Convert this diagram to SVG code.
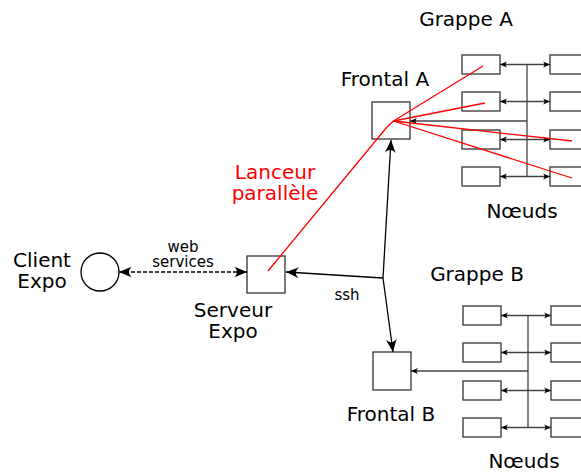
<svg xmlns="http://www.w3.org/2000/svg" width="581" height="473" viewBox="0 0 581 473">
<style>
text{font-family:"DejaVu Sans",sans-serif;fill:#000}
.l{font-size:20px;text-anchor:middle}
.s{font-size:15px;text-anchor:middle}
.red{fill:#ff0000}
.box{fill:#fff;stroke:#333;stroke-width:1.3}
.c{fill:none;stroke:#000;stroke-width:1.3}
.b{fill:none;stroke:#444;stroke-width:1.3}
.r{fill:none;stroke:#ff0000;stroke-width:1.3}
</style>
<defs>
<marker id="ah" viewBox="-14 -7 16 14" markerWidth="16" markerHeight="14" refX="0" refY="0" orient="auto-start-reverse" markerUnits="userSpaceOnUse">
<path d="M0,0 L-13,-5.5 C-9,-2 -9,2 -13,5.5 Z" fill="#000"/>
</marker>
<marker id="sm" viewBox="-9 -4 10 8" markerWidth="10" markerHeight="8" refX="0" refY="0" orient="auto-start-reverse" markerUnits="userSpaceOnUse">
<path d="M0,0 L-7,-3 C-5,-1 -5,1 -7,3 Z" fill="#000"/>
</marker>
</defs>
<rect width="581" height="473" fill="#fff"/>

<g id="client-expo">
<circle cx="100" cy="272" r="19" fill="#fff" stroke="#000" stroke-width="1.3"/>
<text class="l" x="42" y="267">Client<tspan x="42" dy="21">Expo</tspan></text>
</g>
<g id="serveur-expo">
<rect class="box" x="247" y="256" width="38" height="37"/>
<text class="l" x="233" y="317">Serveur<tspan x="233" dy="21">Expo</tspan></text>
</g>
<g id="frontal-a">
<rect class="box" x="372" y="102" width="38" height="37"/>
<text class="l" x="385" y="86">Frontal A</text>
</g>
<g id="frontal-b">
<rect class="box" x="373" y="352" width="38" height="38"/>
<text class="l" x="391" y="421">Frontal B</text>
</g>
<g id="grappe-a">
<text class="l" x="466" y="26">Grappe A</text>
<rect class="box" x="462" y="55" width="38" height="19"/>
<rect class="box" x="462" y="92" width="38" height="19"/>
<rect class="box" x="462" y="130" width="38" height="19"/>
<rect class="box" x="462" y="167" width="38" height="19"/>
<rect class="box" x="550" y="55" width="40" height="19"/>
<rect class="box" x="550" y="92" width="40" height="19"/>
<rect class="box" x="550" y="130" width="40" height="19"/>
<rect class="box" x="550" y="167" width="40" height="19"/>
<text class="l" x="522" y="218">Nœuds</text>
</g>
<g id="grappe-b">
<text class="l" x="477" y="281">Grappe B</text>
<rect class="box" x="463" y="306" width="38" height="19"/>
<rect class="box" x="463" y="343" width="38" height="19"/>
<rect class="box" x="463" y="381" width="38" height="19"/>
<rect class="box" x="463" y="418" width="38" height="19"/>
<rect class="box" x="551" y="306" width="40" height="19"/>
<rect class="box" x="551" y="343" width="40" height="19"/>
<rect class="box" x="551" y="381" width="40" height="19"/>
<rect class="box" x="551" y="418" width="40" height="19"/>
<text class="l" x="524" y="468">Nœuds</text>
</g>

<g id="connectors">
<path class="c" d="M119,272 H247" stroke-dasharray="4,2" marker-start="url(#ah)" marker-end="url(#ah)"/>
<text class="s" x="183" y="252">web<tspan x="183" dy="15">services</tspan></text>
<path class="c" d="M383,278 L286,272" marker-end="url(#ah)"/>
<path class="c" d="M383,278 L391,140" marker-end="url(#ah)"/>
<path class="c" d="M383,278 L393,352" marker-end="url(#ah)"/>
<text class="s" x="347" y="300">ssh</text>
<!-- bus A -->
<path class="b" d="M527,64.5 V176.5"/>
<path class="b" d="M527,121 H410" marker-end="url(#sm)"/>
<path class="b" d="M500,64.5 H550" marker-start="url(#sm)" marker-end="url(#sm)"/>
<path class="b" d="M500,101.5 H550" marker-start="url(#sm)" marker-end="url(#sm)"/>
<path class="b" d="M500,139.5 H550" marker-start="url(#sm)" marker-end="url(#sm)"/>
<path class="b" d="M500,176.5 H550" marker-start="url(#sm)" marker-end="url(#sm)"/>
<!-- bus B -->
<path class="b" d="M528,315.5 V427.5"/>
<path class="b" d="M528,371 H411" marker-end="url(#sm)"/>
<path class="b" d="M501,315.5 H551" marker-start="url(#sm)" marker-end="url(#sm)"/>
<path class="b" d="M501,352.5 H551" marker-start="url(#sm)" marker-end="url(#sm)"/>
<path class="b" d="M501,390.5 H551" marker-start="url(#sm)" marker-end="url(#sm)"/>
<path class="b" d="M501,427.5 H551" marker-start="url(#sm)" marker-end="url(#sm)"/>
<!-- parallel launcher -->
<path class="r" d="M268,271 L387,127 L393.5,121"/>
<path class="r" d="M393.5,121 L483,66"/>
<path class="r" d="M393.5,121 L485,103"/>
<path class="r" d="M393.5,121 L572,141"/>
<path class="r" d="M393.5,121 L572,178"/>
<text class="l red" x="275" y="179">Lanceur<tspan x="275" dy="21">parallèle</tspan></text>
</g>
</svg>
